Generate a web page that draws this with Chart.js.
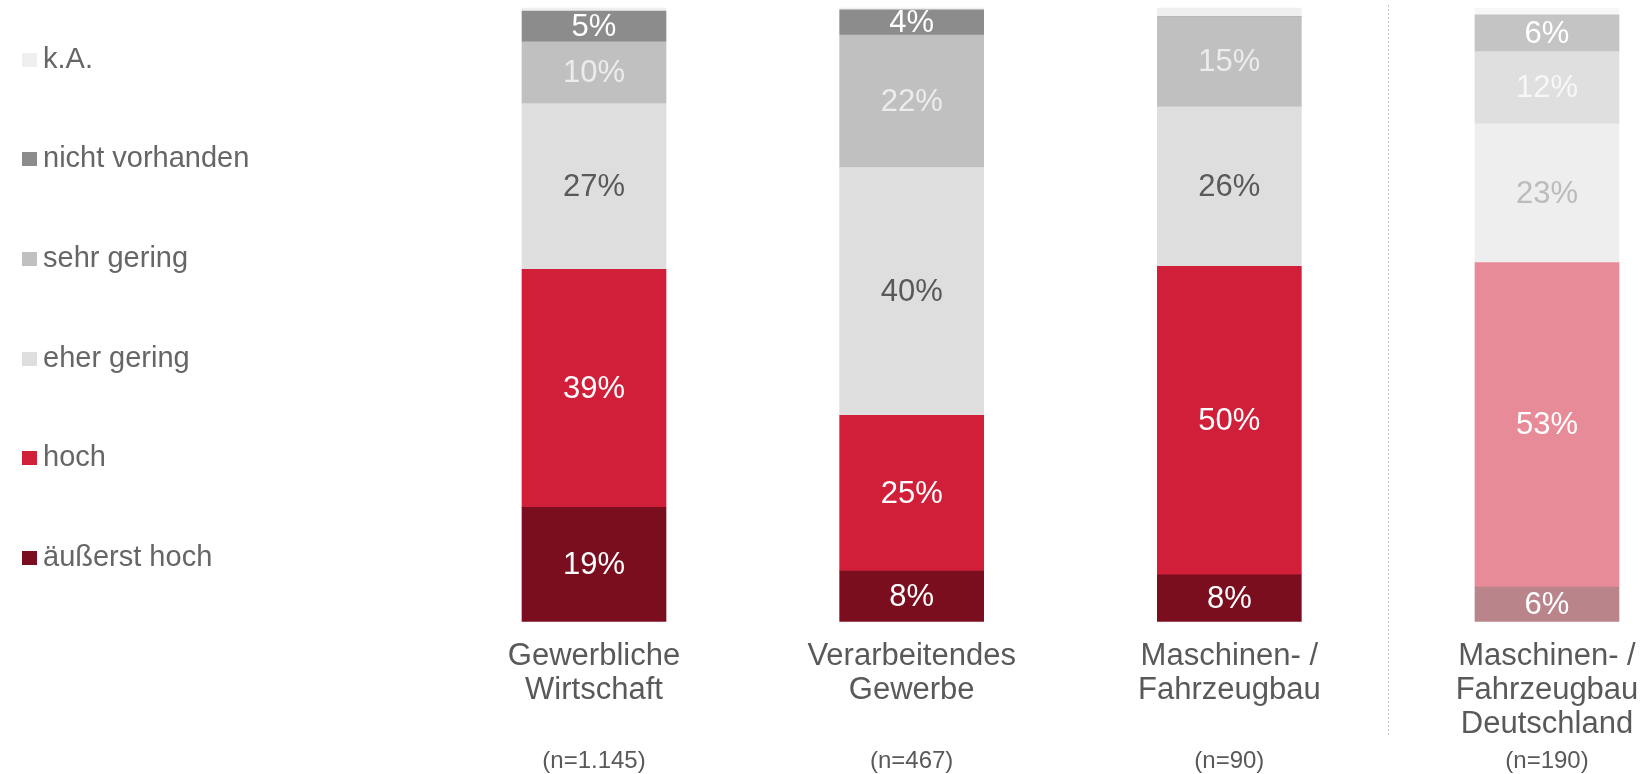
<!DOCTYPE html>
<html lang="de">
<head>
<meta charset="UTF-8">
<title>Bedeutung</title>
<script src="https://cdn.jsdelivr.net/npm/chart.js"></script>
<style>
  html, body { margin: 0; padding: 0; background: #fff; }
</style>
</head>
<body>
<canvas id="myChart" width="1643" height="774"></canvas>
<script>
// categories (x axis) and sample sizes
const categories = [
  ["Gewerbliche", "Wirtschaft"],
  ["Verarbeitendes", "Gewerbe"],
  ["Maschinen- /", "Fahrzeugbau"],
  ["Maschinen- /", "Fahrzeugbau", "Deutschland"]
];
const sampleSizes = ["(n=1.145)", "(n=467)", "(n=90)", "(n=190)"];

// series, bottom to top (percent)
const seriesNames = ["äußerst hoch", "hoch", "eher gering", "sehr gering", "nicht vorhanden", "k.A."];
const aeusserstHoch  = [18.6, 8.2, 7.6, 5.6];
const hoch           = [38.8, 25.4, 50.3, 52.9];
const eherGering     = [27.0, 40.4, 26.0, 22.6];
const sehrGering     = [10.1, 21.6, 14.7, 11.8];
const nichtVorhanden = [5.0, 4.1, 0, 6.0];
const keineAngabe    = [0.5, 0.3, 1.4, 1.1];

// colours: normal, faded (last bar), label colour normal / faded
const fillColors  = ["#7a0e1e", "#d11f3a", "#dedede", "#c0c0c0", "#8c8c8c", "#efefef"];
const fadedColors = ["#ba848b", "#e78b98", "#eeeeee", "#dfdfdf", "#c4c4c4", "#f7f7f7"];
const textColors  = ["#ffffff", "#ffffff", "#595959", "#ececec", "#ffffff", null];
const fadedText   = ["#ffffff", "#ffffff", "#bbbbbb", "#f7f7f7", "#ffffff", null];

const FONT = "'Liberation Sans', Arial, Helvetica, sans-serif";
const values = [aeusserstHoch, hoch, eherGering, sehrGering, nichtVorhanden, keineAngabe];

const datasets = seriesNames.map((name, i) => ({
  label: name,
  data: values[i],
  backgroundColor: categories.map((c, j) => j === 3 ? fadedColors[i] : fillColors[i]),
  borderWidth: 0,
  barThickness: 144,
  clip: false
}));

// percent labels in the segments
const segmentLabels = {
  id: "segmentLabels",
  afterDatasetsDraw(chart) {
    const ctx = chart.ctx;
    ctx.save();
    ctx.font = "31px " + FONT;
    ctx.textAlign = "center";
    ctx.textBaseline = "middle";
    chart.data.datasets.forEach((ds, d) => {
      if (!textColors[d]) return;
      chart.getDatasetMeta(d).data.forEach((bar, i) => {
        const v = ds.data[i];
        if (!v || v < 1) return;
        ctx.fillStyle = i === 3 ? fadedText[d] : textColors[d];
        ctx.fillText(Math.round(v) + "%", bar.x, (bar.y + bar.base) / 2 + 1);
      });
    });
    ctx.restore();
  }
};

// dotted separator before the last bar
const separator = {
  id: "separator",
  afterDraw(chart) {
    const x = chart.scales.x;
    const px = Math.round((x.getPixelForValue(2) + x.getPixelForValue(3)) / 2) + 0.5;
    const ctx = chart.ctx;
    ctx.save();
    ctx.strokeStyle = "#c4c4c4";
    ctx.lineWidth = 1;
    ctx.setLineDash([2, 2]);
    ctx.beginPath();
    ctx.moveTo(px, 5);
    ctx.lineTo(px, 737);
    ctx.stroke();
    ctx.restore();
  }
};

// legend on the left, top item = last series
const sideLegend = {
  id: "sideLegend",
  afterDraw(chart) {
    const ctx = chart.ctx;
    ctx.save();
    ctx.font = "29px " + FONT;
    ctx.textBaseline = "middle";
    const n = seriesNames.length;
    for (let k = 0; k < n; k++) {
      const idx = n - 1 - k;
      const cy = 59.5 + k * 99.7;
      ctx.fillStyle = fillColors[idx];
      ctx.fillRect(22, Math.round(cy - 7), 15, 14);
      ctx.fillStyle = "#666666";
      ctx.fillText(seriesNames[idx], 43, cy);
    }
    ctx.restore();
  }
};

new Chart(document.getElementById("myChart"), {
  type: "bar",
  data: { labels: categories, datasets: datasets },
  options: {
    responsive: false,
    animation: false,
    layout: { padding: { left: 594, right: 96, top: 8, bottom: 0 } },
    plugins: { legend: { display: false }, tooltip: { enabled: false } },
    scales: {
      x: {
        stacked: true,
        offset: false,
        grid: { display: false, drawTicks: false },
        border: { display: false },
        ticks: {
          autoSkip: false, maxRotation: 0, padding: 18,
          color: "#595959",
          font: { family: FONT, size: 31, lineHeight: 1.1 }
        },
        afterFit(scale) { scale.height = 120; scale.paddingLeft = 0; scale.paddingRight = 0; }
      },
      x2: {
        type: "category",
        labels: sampleSizes,
        position: "bottom",
        offset: false,
        grid: { display: false, drawTicks: false },
        border: { display: false },
        ticks: {
          autoSkip: false, maxRotation: 0, padding: 6,
          color: "#595959",
          font: { family: FONT, size: 24, lineHeight: 1.15 }
        },
        afterFit(scale) { scale.height = 32.6; scale.paddingLeft = 0; scale.paddingRight = 0; }
      },
      y: {
        stacked: true,
        display: false,
        min: 0,
        max: 100
      }
    }
  },
  plugins: [segmentLabels, separator, sideLegend]
});
</script>
</body>
</html>
